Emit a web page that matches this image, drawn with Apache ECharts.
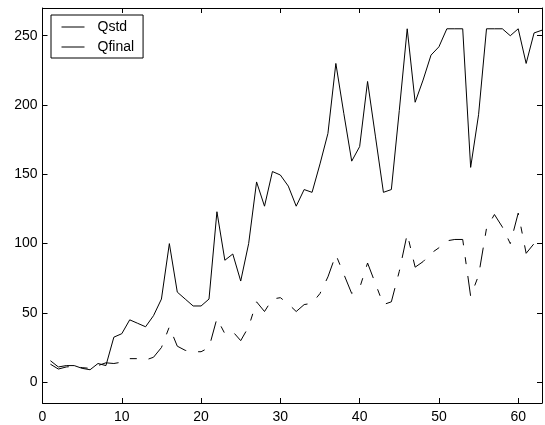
<!DOCTYPE html>
<html>
<head>
<meta charset="utf-8">
<script src="https://cdn.jsdelivr.net/npm/echarts@6/dist/echarts.min.js"></script>
<style>
  html, body { margin: 0; padding: 0; background: #fff; }
  #chart { width: 545px; height: 425px; }
</style>
</head>
<body>
<div id="chart"></div>
<script>
// sample index (x axis)
const samples = [1, 2, 3, 4, 5, 6, 7, 8, 9, 10, 11, 12, 13, 14, 15, 16, 17, 18, 19, 20,
  21, 22, 23, 24, 25, 26, 27, 28, 29, 30, 31, 32, 33, 34, 35, 36, 37, 38, 39, 40,
  41, 42, 43, 44, 45, 46, 47, 48, 49, 50, 51, 52, 53, 54, 55, 56, 57, 58, 59, 60,
  61, 62, 63];

const qstd = [15.5, 11, 12, 12, 10, 9, 13.5, 12, 32.5, 35, 45, 42.5, 40, 48, 60, 100, 65, 60, 55, 55,
  60, 123, 88, 92.5, 73, 100, 144.5, 127, 152, 149.5, 141.5, 127, 139, 137, 157.5, 179.5, 230, 194, 159.5, 170,
  217, 177, 137, 139, 196, 255, 202, 218, 236, 242, 255, 255, 255, 155, 193, 255, 255, 255, 250, 255,
  230, 252, 254];

const qfinal = [13, 9.5, 11, 11.5, 10.5, 10, 12, 14, 13.5, 14.5, 17, 17, 16, 18, 25, 40, 26, 23, 22, 22,
  25, 46, 35, 36.5, 30, 40, 58, 51, 60, 61, 56.5, 51, 56, 57, 64, 76, 92, 78, 64, 68,
  86, 71, 56, 58, 80, 107, 83, 87, 93, 97, 102, 103, 103, 62, 77, 111, 121, 112, 100, 122,
  93, 100, 101];

const yTicks = [0, 50, 100, 150, 200, 250];

const chart = echarts.init(document.getElementById("chart"));

const font = "Liberation Sans, Arial, Helvetica, sans-serif";

function axisBase() {
  return {
    axisLine: { show: true, onZero: false, lineStyle: { color: "#000", width: 1 } },
    axisTick: { show: true, inside: true, length: 5, lineStyle: { color: "#000", width: 1 } },
    splitLine: { show: false }
  };
}

chart.setOption({
  animation: false,
  backgroundColor: "#fff",
  grid: { left: 42.5, right: 3, top: 8, bottom: 22, containLabel: false },
  legend: {
    show: true,
    orient: "vertical",
    left: 51,
    top: 15,
    padding: [5, 9, 4, 10],
    itemWidth: 23,
    itemHeight: 14,
    itemGap: 6,
    borderColor: "#000",
    borderWidth: 1,
    backgroundColor: "#fff",
    itemStyle: { opacity: 0 },
    lineStyle: { width: 1, color: "#000", type: "solid" },
    textStyle: { fontFamily: font, fontSize: 14, color: "#000", padding: [0, 0, 0, 8] },
    data: ["Qstd", "Qfinal"]
  },
  xAxis: [
    Object.assign(axisBase(), {
      type: "value", min: 0, max: 63, interval: 10, position: "bottom",
      axisLabel: { color: "#000", fontFamily: font, fontSize: 14, margin: 7, showMaxLabel: false }
    }),
    Object.assign(axisBase(), {
      type: "value", min: 0, max: 63, interval: 10, position: "top",
      axisLabel: { show: false }
    })
  ],
  yAxis: [
    Object.assign(axisBase(), {
      type: "value", min: -15, max: 270, position: "left",
      axisTick: { show: true, inside: true, length: 5, customValues: yTicks, lineStyle: { color: "#000", width: 1 } },
      axisLabel: { color: "#000", fontFamily: font, fontSize: 14, margin: 5, customValues: yTicks }
    }),
    Object.assign(axisBase(), {
      type: "value", min: -15, max: 270, position: "right",
      axisTick: { show: true, inside: true, length: 5, customValues: yTicks, lineStyle: { color: "#000", width: 1 } },
      axisLabel: { show: false, customValues: yTicks }
    })
  ],
  series: [
    {
      name: "Qstd",
      type: "line",
      symbol: "none",
      xAxisIndex: 0,
      yAxisIndex: 0,
      lineStyle: { color: "#000", width: 1 },
      itemStyle: { color: "#000" },
      data: samples.map((x, i) => [x, qstd[i]])
    },
    {
      name: "Qfinal",
      type: "line",
      symbol: "none",
      xAxisIndex: 0,
      yAxisIndex: 0,
      lineStyle: { color: "#000", width: 1, type: [20, 12, 7, 12] },
      itemStyle: { color: "#000" },
      data: samples.map((x, i) => [x, qfinal[i]])
    }
  ]
});
</script>
</body>
</html>
